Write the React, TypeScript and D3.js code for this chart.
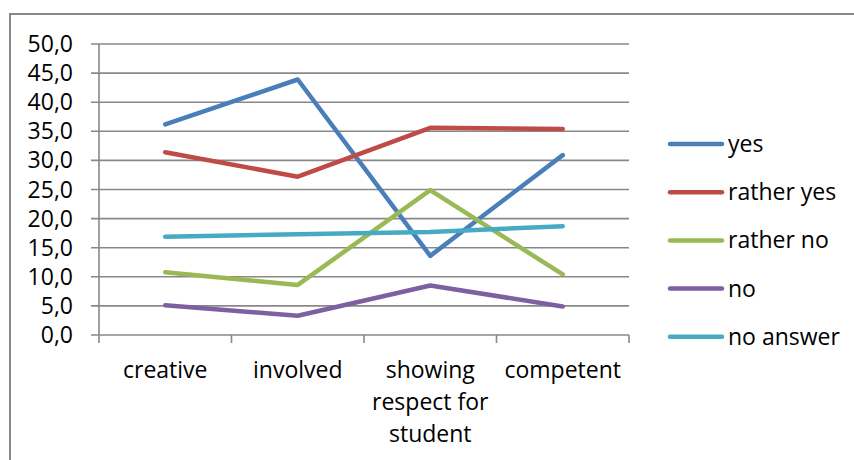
import React from "react";
import * as d3 from "d3";

const categories: string[][] = [
  ["creative"],
  ["involved"],
  ["showing", "respect for", "student"],
  ["competent"],
];
const seriesNames = ["yes", "rather yes", "rather no", "no", "no answer"];
const seriesColors = ["#4a7ebb", "#be4b48", "#98b954", "#7d60a0", "#46aac5"];
const yes = [36.2, 43.9, 13.6, 30.9];
const ratherYes = [31.4, 27.2, 35.6, 35.4];
const ratherNo = [10.8, 8.6, 24.9, 10.4];
const no = [5.1, 3.3, 8.5, 4.9];
const noAnswer = [16.9, 17.3, 17.7, 18.7];
const yTicks = [0, 5, 10, 15, 20, 25, 30, 35, 40, 45, 50];

const seriesValues = [yes, ratherYes, ratherNo, no, noAnswer];

const W = 854;
const H = 460;
const FONT = "'Open Sans', sans-serif";
const FS = 23;
const GRID = "#888888";

export default function App() {
  const x = d3
    .scaleBand<number>()
    .domain(categories.map((_, i) => i))
    .range([99, 629])
    .paddingInner(0)
    .paddingOuter(0);
  const y = d3.scaleLinear().domain([0, 50]).range([335, 44]);
  const cx = (i: number) => (x(i) as number) + x.bandwidth() / 2;
  const line = d3
    .line<number>()
    .x((_, i) => cx(i))
    .y((v) => y(v));
  const fmt = (v: number) => v.toFixed(1).replace(".", ",");

  return (
    <svg
      width={W}
      height={H}
      style={{ position: "absolute", left: 0, top: 0, background: "#fff" }}
      fontFamily={FONT}
    >
      <rect x={10} y={14} width={W} height={H} fill="#fff" stroke={GRID} strokeWidth={2} />
      {yTicks.map((t) => (
        <g key={t}>
          <line x1={91} x2={629} y1={y(t)} y2={y(t)} stroke={GRID} strokeWidth={1.6} />
          <text x={73} y={y(t)} dy="0.35em" textAnchor="end" fontSize={FS} fill="#000">
            {fmt(t)}
          </text>
        </g>
      ))}
      <line x1={99} x2={99} y1={y(50)} y2={y(0) + 8} stroke={GRID} strokeWidth={1.6} />
      {categories.map((_, i) => (
        <line
          key={i}
          x1={(x(i) as number) + x.bandwidth()}
          x2={(x(i) as number) + x.bandwidth()}
          y1={y(0)}
          y2={y(0) + 8}
          stroke={GRID}
          strokeWidth={1.6}
        />
      ))}
      {categories.map((lines, i) => (
        <text key={i} textAnchor="middle" fontSize={FS} fill="#000">
          {lines.map((l, j) => (
            <tspan key={j} x={cx(i)} y={378 + j * 32}>
              {l}
            </tspan>
          ))}
        </text>
      ))}
      {seriesValues.map((vals, s) => (
        <path
          key={s}
          d={line(vals) || ""}
          fill="none"
          stroke={seriesColors[s]}
          strokeWidth={4.5}
          strokeLinecap="round"
          strokeLinejoin="round"
        />
      ))}
      {seriesNames.map((n, s) => {
        const ly = 144 + s * 48.2;
        return (
          <g key={n}>
            <line x1={670} x2={722} y1={ly} y2={ly} stroke={seriesColors[s]} strokeWidth={4.5} strokeLinecap="round" />
            <text x={728} y={ly} dy="0.35em" fontSize={FS} fill="#000">
              {n}
            </text>
          </g>
        );
      })}
    </svg>
  );
}
